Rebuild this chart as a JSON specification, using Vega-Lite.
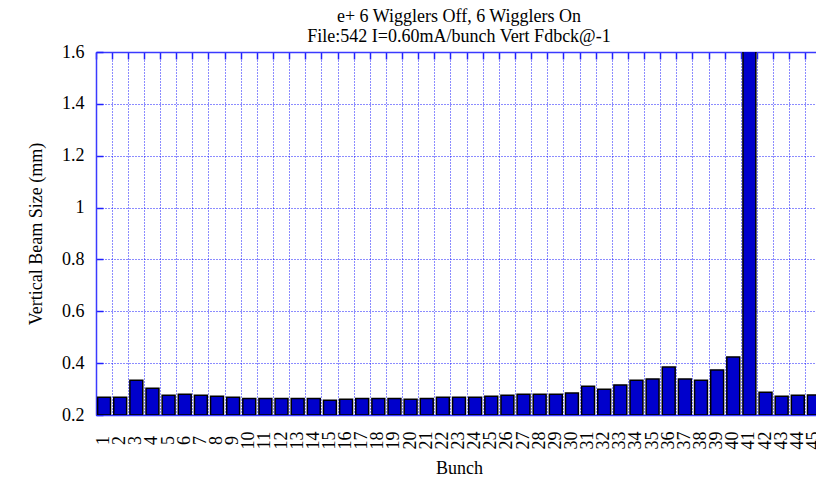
{
  "$schema": "https://vega.github.io/schema/vega-lite/v6.json",
  "autosize": "none",
  "padding": {"left": 96, "top": 52, "right": 0, "bottom": 63},
  "width": 726,
  "height": 363,
  "background": "white",
  "title": {
    "text": ["e+  6 Wigglers Off, 6 Wigglers On", "File:542 I=0.60mA/bunch Vert Fdbck@-1"],
    "font": "Liberation Serif",
    "fontSize": 18,
    "fontWeight": "normal",
    "color": "black",
    "lineHeight": 20,
    "offset": -3,
    "anchor": "middle"
  },
  "config": {
    "view": {"stroke": null},
    "axis": {
      "labelFont": "Liberation Serif",
      "titleFont": "Liberation Serif",
      "labelFontSize": 18,
      "titleFontSize": 18,
      "titleFontWeight": "normal",
      "labelColor": "black",
      "titleColor": "black",
      "domainColor": "#3a3aff",
      "domainWidth": 1.5,
      "tickColor": "#2020ff",
      "tickWidth": 1.5,
      "gridColor": "#0000ff",
      "gridDash": [1, 2],
      "gridOpacity": 0.9
    }
  },
  "data": {
    "values": [
      {"bunch": 1, "size": 0.268}, {"bunch": 2, "size": 0.268}, {"bunch": 3, "size": 0.334},
      {"bunch": 4, "size": 0.303}, {"bunch": 5, "size": 0.276}, {"bunch": 6, "size": 0.280},
      {"bunch": 7, "size": 0.276}, {"bunch": 8, "size": 0.272}, {"bunch": 9, "size": 0.268},
      {"bunch": 10, "size": 0.264}, {"bunch": 11, "size": 0.264}, {"bunch": 12, "size": 0.264},
      {"bunch": 13, "size": 0.264}, {"bunch": 14, "size": 0.264}, {"bunch": 15, "size": 0.257},
      {"bunch": 16, "size": 0.261}, {"bunch": 17, "size": 0.264}, {"bunch": 18, "size": 0.264},
      {"bunch": 19, "size": 0.264}, {"bunch": 20, "size": 0.261}, {"bunch": 21, "size": 0.264},
      {"bunch": 22, "size": 0.268}, {"bunch": 23, "size": 0.268}, {"bunch": 24, "size": 0.268},
      {"bunch": 25, "size": 0.272}, {"bunch": 26, "size": 0.276}, {"bunch": 27, "size": 0.280},
      {"bunch": 28, "size": 0.280}, {"bunch": 29, "size": 0.280}, {"bunch": 30, "size": 0.285},
      {"bunch": 31, "size": 0.311}, {"bunch": 32, "size": 0.299}, {"bunch": 33, "size": 0.316},
      {"bunch": 34, "size": 0.334}, {"bunch": 35, "size": 0.339}, {"bunch": 36, "size": 0.385},
      {"bunch": 37, "size": 0.339}, {"bunch": 38, "size": 0.334}, {"bunch": 39, "size": 0.374},
      {"bunch": 40, "size": 0.424}, {"bunch": 41, "size": 1.8}, {"bunch": 42, "size": 0.288},
      {"bunch": 43, "size": 0.272}, {"bunch": 44, "size": 0.276}, {"bunch": 45, "size": 0.277}
    ]
  },
  "resolve": {"axis": {"x": "independent"}},
  "layer": [
    {
      "mark": {"type": "bar", "opacity": 0, "clip": true},
      "encoding": {
        "x": {
          "field": "bunch", "type": "ordinal", "sort": "ascending",
          "scale": {"paddingInner": 0, "paddingOuter": 0},
          "axis": {
            "orient": "top",
            "title": null,
            "labels": false,
            "bandPosition": 0,
            "tickSize": -7,
            "grid": true
          }
        },
        "y": {
          "field": "size", "type": "quantitative",
          "scale": {"domain": [0.2, 1.6], "zero": false, "nice": false},
          "axis": {
            "title": "Vertical Beam Size (mm)",
            "values": [0.2, 0.4, 0.6, 0.8, 1, 1.2, 1.4, 1.6],
            "format": ".1~f",
            "labelFont": "Liberation Serif",
            "grid": true,
            "tickSize": -7,
            "labelPadding": 19,
            "titlePadding": 16
          }
        },
        "y2": {"datum": 0.2}
      }
    },
    {
      "mark": {"type": "bar", "fill": "#0000cc", "stroke": "black", "strokeWidth": 1.5, "clip": true, "width": {"band": 0.8}},
      "encoding": {
        "x": {
          "field": "bunch", "type": "ordinal", "sort": "ascending",
          "axis": {
            "orient": "bottom",
            "title": "Bunch",
            "labelFont": "Liberation Serif",
            "labelAngle": -90,
            "labelAlign": "center",
            "labelBaseline": "middle",
            "labelPadding": 25,
            "ticks": false,
            "grid": false,
            "titlePadding": 10
          }
        },
        "y": {"field": "size", "type": "quantitative"},
        "y2": {"datum": 0.2}
      }
    }
  ]
}
